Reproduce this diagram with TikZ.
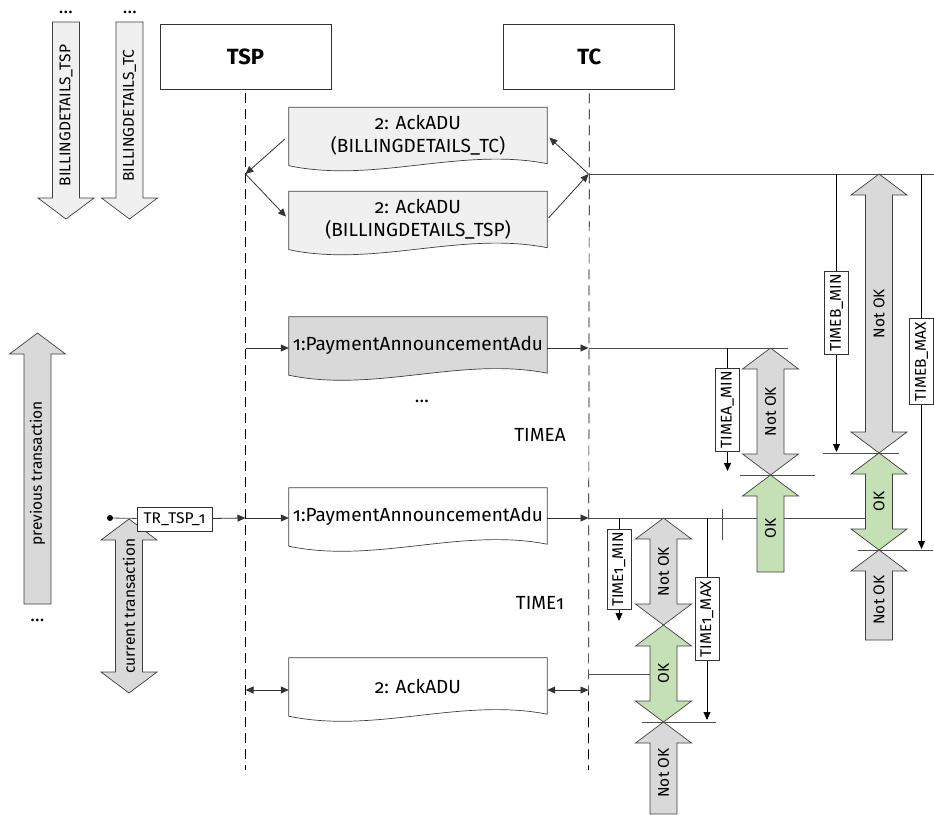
\documentclass[tikz,border=0pt]{standalone}
\usepackage{fontspec}
\setmainfont{Fira Sans}[Numbers=OldStyle]
\usetikzlibrary{positioning, arrows.meta, calc, backgrounds}

\definecolor{grayfill}{HTML}{D9D9D9}
\definecolor{lightfill}{HTML}{F0F0F0}
\definecolor{greenfill}{HTML}{C5E0B4}

% block arrow with two heads: name, x, top tip, bottom tip, fill, text
\newcommand{\dblk}[6]{%
  \draw[blk, fill=#5] (#2,#3) -- (#2+28,#3+21) -- (#2+13.5,#3+21)
    -- (#2+13.5,#4-21) -- (#2+28,#4-21) -- (#2,#4) -- (#2-28,#4-21)
    -- (#2-13.5,#4-21) -- (#2-13.5,#3+21) -- (#2-28,#3+21) -- cycle;
  \node[blktxt] (#1) at (#2,{(#3+#4)/2}) {#6};}
% block arrow with one head: name, x, tip, tail, fill, text
\newcommand{\sblk}[6]{%
  \pgfmathsetmacro{\blkhb}{#3+21*sign(#4-#3)}%
  \pgfmathsetmacro{\blktm}{(#3+#4)/2+5*sign(#4-#3)}%
  \draw[blk, fill=#5] (#2,#3) -- (#2+28,\blkhb) -- (#2+13.5,\blkhb)
    -- (#2+13.5,#4) -- (#2-13.5,#4) -- (#2-13.5,\blkhb) -- (#2-28,\blkhb) -- cycle;
  \node[blktxt] (#1) at (#2,\blktm) {#6};}
% wavy document outline behind a doc node
\newcommand{\docbox}[2]{%
  \draw[docline, fill=#2] (#1.north west) -- (#1.north east) -- (#1.south east)
    .. controls ($(#1.south east)+(-86,-17)$) and ($(#1.south west)+(86,20)$)
    .. ([yshift=-2pt]#1.south west) -- cycle;}

\begin{document}
\begin{tikzpicture}[
  x=1pt, y=-1pt,
  >={Triangle[length=8pt,width=7pt]},
  every node/.style={font=\fontsize{19}{23}\selectfont}
]
\tikzset{
  actor/.style  ={draw=black!80, line width=0.8pt, minimum width=171pt,
                  minimum height=65pt, font=\fontsize{22}{26}\selectfont\bfseries},
  life/.style   ={line width=0.7pt, dash pattern=on 10pt off 6pt},
  doc/.style    ={minimum width=258pt, minimum height=56pt, inner sep=0pt,
                  align=center},
  docline/.style={draw=black!75, line width=0.7pt},
  msg/.style    ={->, line width=0.8pt, draw=black!80},
  lvl/.style    ={draw=black!70, line width=0.8pt},
  tmr/.style    ={->, line width=0.8pt},
  tlab/.style   ={draw=black!80, fill=white, rotate=90, line width=0.7pt,
                  font=\fontsize{15.5}{17}\selectfont, inner xsep=3pt,
                  minimum height=24pt},
  blk/.style    ={draw=black!75, line width=0.7pt},
  blktxt/.style ={rotate=90, font=\fontsize{15.5}{17}\selectfont},
  trbox/.style  ={draw=black!80, fill=white, line width=0.7pt,
                  font=\fontsize{15.5}{17}\selectfont, minimum width=75pt,
                  minimum height=24pt, inner sep=1pt},
  dots/.style   ={anchor=base, inner sep=0pt}
}
\useasboundingbox (0,0) rectangle (934,814);

%% ----- actors and lifelines -----
\node[actor] (tsp) at (245.5,56.5) {TSP};
\node[actor, right=172pt of tsp] (tc) {TC};
\coordinate (tspEnd) at (245.5,770);
\coordinate (tcEnd)  at (588.5,770);
\draw[life] ([yshift=-4pt]tsp.south) -- (tspEnd);
\draw[life] ([yshift=-4pt]tc.south) -- (tcEnd);

%% ----- billing details exchange -----
\node[doc] (bTC)  at (418,135.5) {2: AckADU\\(BILLINGDETAILS\_TC)};
\node[doc] (bTSP) at (418,219.5) {2: AckADU\\(BILLINGDETAILS\_TSP)};
\begin{scope}[on background layer]
  \docbox{bTC}{lightfill}
  \docbox{bTSP}{lightfill}
\end{scope}
\coordinate (tspB) at (245.5,174);
\coordinate (tcB)  at (588.5,174);
\coordinate (eB)   at (934,174);
\draw[msg, shorten <=5pt] (bTC.west) -- (tspB);
\draw[msg, shorten >=4pt] (tspB) -- (bTSP.west);
\draw[msg, shorten >=3pt] (tcB) -- (bTC.east);
\draw[msg, shorten <=2pt] (bTSP.east) -- (tcB);
\draw[lvl] (tcB) -- (eB);

\node[dots] (dotsTSP) at (66,13) {\smash{\dots}};
\node[dots] (dotsTC)  at (130,13) {\smash{\dots}};
\sblk{billTSP}{66}{219}{22}{lightfill}{BILLINGDETAILS\_TSP}
\sblk{billTC}{129.5}{219}{22}{lightfill}{BILLINGDETAILS\_TC}

%% ----- previous transaction (A) -----
\node[doc] (payA) at (418,345) {1:PaymentAnnouncementAdu};
\begin{scope}[on background layer]
  \docbox{payA}{grayfill}
\end{scope}
\coordinate (tspA) at (245.5,348);
\coordinate (tcA)  at (588.5,348);
\coordinate (eA)   at (788,348);
\draw[msg] (tspA) -- (payA.west |- tspA);
\draw[msg] (payA.east |- tcA) -- (tcA);
\draw[lvl] (tcA) -- (eA);
\node[dots] (dotsA) at (422,402) {\dots};
\node (timeA) at (540,435) {TIMEA};

\sblk{prev}{37.5}{333}{604}{grayfill}{previous transaction}
\node[dots] (dotsPrev) at (37.5,621) {\dots};

%% ----- current transaction (1) -----
\node[doc] (pay1) at (418,516) {1:PaymentAnnouncementAdu};
\begin{scope}[on background layer]
  \docbox{pay1}{white}
\end{scope}
\coordinate (tsp1) at (245.5,518);
\coordinate (tc1)  at (588.5,518);
\coordinate (e1)   at (867,518);
\dblk{cur}{129}{519}{693}{grayfill}{current transaction}
\node[circle, fill, inner sep=0pt, minimum size=6pt] (start) at (110,518) {};
\node[trbox] (trtsp) at (174.5,519) {TR\_TSP\_1};
\draw[lvl] (start) -- (trtsp);
\draw[msg] (trtsp) -- (tsp1);
\draw[msg] (tsp1) -- (pay1.west |- tsp1);
\draw[msg] (pay1.east |- tc1) -- (tc1);
\draw[lvl] (tc1) -- (e1);
\draw[lvl] (722,509) -- (722,540);
\node (time1) at (540,603) {TIME1};

%% ----- acknowledgement -----
\node[doc] (ack) at (418,686) {2: AckADU};
\begin{scope}[on background layer]
  \docbox{ack}{white}
\end{scope}
\coordinate (tspC) at (245.5,690);
\coordinate (tcC)  at (588.5,690);
\coordinate (tcD)  at (588.5,674);
\coordinate (eD)   at (650,674);
\draw[msg, <->] (tspC) -- (ack.west |- tspC);
\draw[msg, <->] (ack.east |- tcC) -- (tcC);
\draw[lvl] (tcD) -- (eD);

%% ----- timers -----
\draw[tmr] (836.5,174) -- node[tlab] (lbmin) {TIMEB\_MIN} (836.5,452);
\draw[tmr] (921.5,174) -- node[tlab] (lbmax) {TIMEB\_MAX} (921.5,549);
\draw[tmr] (727.5,348) -- node[tlab] (lamin) {TIMEA\_MIN} (727.5,471);
\draw[tmr] (619,518)   -- node[tlab] (l1min) {TIME1\_MIN} (619,621);
\draw[tmr] (707,518)   -- node[tlab] (l1max) {TIME1\_MAX} (707,720);
\foreach \ya/\xa/\xb in {453/823/899, 550/858/933, 475/740/815, 722/642/716}
  \draw[lvl] (\xa,\ya) -- (\xb,\ya);

%% ----- OK / Not OK windows -----
\dblk{nokB}{879}{174}{453}{grayfill}{Not OK}
\dblk{okB}{879}{453}{550}{greenfill}{OK}
\sblk{nokB2}{879}{550}{640}{grayfill}{Not OK}
\dblk{nokA}{770.5}{348}{475}{grayfill}{Not OK}
\sblk{okA}{770.5}{475}{572}{greenfill}{OK}
\dblk{nok1}{663.5}{518}{625}{grayfill}{Not OK}
\dblk{ok1}{663.5}{625}{722}{greenfill}{OK}
\sblk{nok1b}{663.5}{722}{814}{grayfill}{Not OK}

\end{tikzpicture}
\end{document}
